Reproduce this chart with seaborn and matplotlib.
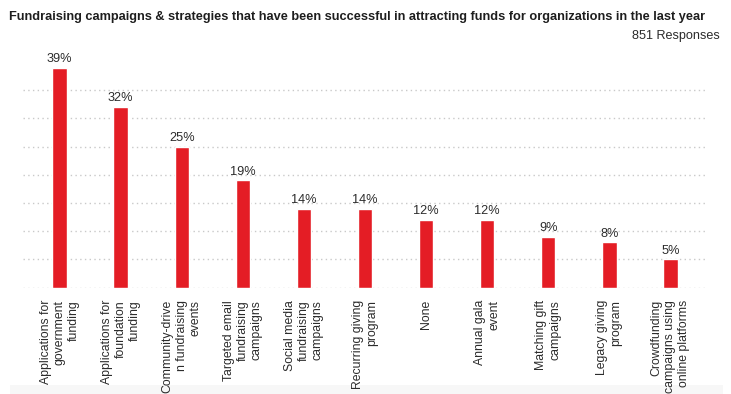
import matplotlib
matplotlib.use("Agg")
import matplotlib.pyplot as plt
from matplotlib.patches import Rectangle
import seaborn as sns
import pandas as pd

# Survey data
categories = [
    "Applications for\ngovernment\nfunding",
    "Applications for\nfoundation\nfunding",
    "Community-drive\nn fundraising\nevents",
    "Targeted email\nfundraising\ncampaigns",
    "Social media\nfundraising\ncampaigns",
    "Recurring giving\nprogram",
    "None",
    "Annual gala\nevent",
    "Matching gift\ncampaigns",
    "Legacy giving\nprogram",
    "Crowdfunding\ncampaigns using\nonline platforms",
]
shares = [39, 32, 25, 19, 14, 14, 12, 12, 9, 8, 5]
value_labels = [f"{v}%" for v in shares]
grid_levels = [0, 5, 10, 15, 20, 25, 30, 35]
title = ("Fundraising campaigns & strategies that have been successful "
         "in attracting funds for organizations in the last year")
subtitle = "851 Responses"

sns.set_theme(style="white")
plt.rcParams["font.family"] = ["Liberation Sans", "DejaVu Sans"]

W, H = 731, 394
fig = plt.figure(figsize=(W / 100, H / 100), dpi=100)
fig.patch.set_facecolor("white")

ax = fig.add_axes([23 / W, 1 - 287.5 / H, (707 - 23) / W, (287.5 - 61.9) / H])
df = pd.DataFrame({"strategy": categories, "share": shares})
sns.barplot(data=df, x="strategy", y="share", color="#e41d25",
            saturation=1, width=0.237, ax=ax)

ax.set_xlim(-0.6, 10.6)
ax.set_ylim(0, 40)
ax.set_yticks(grid_levels)
ax.set_yticklabels([])
ax.set_axisbelow(True)
ax.yaxis.grid(True, linestyle=(0, (1, 2.4)), color="#c9c9c9", linewidth=1)
ax.xaxis.grid(False)
for s in ax.spines.values():
    s.set_visible(False)
ax.set_xlabel("")
ax.set_ylabel("")
ax.tick_params(axis="both", length=0)
ax.tick_params(axis="x", pad=9)
for lbl in ax.get_xticklabels():
    lbl.set_rotation(90)
    lbl.set_ha("center")
    lbl.set_multialignment("right")
    lbl.set_fontsize(8.8)
    lbl.set_linespacing(1.22)
    lbl.set_color("#2b2b2b")

ax.bar_label(ax.containers[0], labels=value_labels, padding=2,
             fontsize=9.2, color="#2b2b2b", clip_on=False)

fig.text(9 / W, 1 - 17 / H, title, fontsize=9.2, fontweight="bold",
         color="#1e1e1e", ha="left", va="center")
fig.text(720 / W, 1 - 36 / H, subtitle, fontsize=9.1, color="#2b2b2b",
         ha="right", va="center")

# pale band along the bottom edge
fig.patches.append(Rectangle((10 / W, 0), (723 - 10) / W, 9 / H,
                             transform=fig.transFigure, facecolor="#f7f7f7",
                             edgecolor="none", zorder=-1))

fig.savefig("out.png", dpi=100, facecolor="white")
